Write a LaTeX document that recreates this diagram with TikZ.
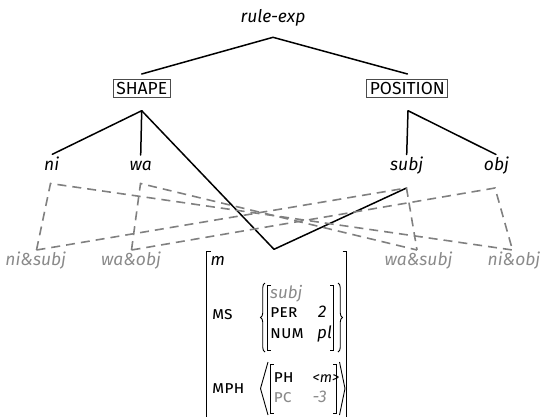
\documentclass[tikz,border=0pt]{standalone}
\usepackage{fontspec}
\setmainfont{Fira Sans}
\usetikzlibrary{decorations.pathreplacing}
\definecolor{lgray}{HTML}{8A8A8A}
\definecolor{dgray}{HTML}{808080}
\begin{document}
\begin{tikzpicture}[x=1bp,y=-1bp,
  base/.style={font=\fontsize{17.5}{21}\selectfont, inner sep=0pt, anchor=base},
  lbl/.style={base, font=\fontsize{17.5}{21}\selectfont\itshape},
  glbl/.style={lbl, text=lgray},
  boxn/.style={draw=black!70, line width=0.9bp, inner sep=3bp, font=\fontsize{17.5}{21}\selectfont},
  edge/.style={line width=1.5bp, line cap=round, line join=round},
  dedge/.style={dgray, line width=1.6bp, dash pattern=on 9bp off 6bp},
  avmw/.style={font=\fontsize{17}{20}\selectfont, inner sep=0pt, anchor=base west},
  avmi/.style={avmw, font=\fontsize{17}{20}\selectfont\itshape},
  avmsc/.style={avmw, font=\fontsize{17.5}{20}\selectfont\scshape},
  brk/.style={line width=0.9bp}
]
\useasboundingbox (0,0) rectangle (540,416);
\clip (0,0) rectangle (540,416);

% tree nodes
\node[lbl] (root) at (273,22.7) {rule-exp};
\node[boxn] (shape) at (141.7,88.5) {SHAPE};
\node[boxn] (position) at (407.3,88.5) {POSITION};
\node[lbl] (ni) at (51.7,170.7) {ni};
\node[lbl] (wa) at (140.7,170.7) {wa};
\node[lbl] (subj) at (406.7,170.7) {subj};
\node[lbl] (obj) at (496.5,170.7) {obj};
\node[glbl] (nisubj) at (35.8,265) {ni\&subj};
\node[glbl] (waobj) at (131,265) {wa\&obj};
\node[glbl] (wasubj) at (418.5,265) {wa\&subj};
\node[glbl] (niobj) at (514,265) {ni\&obj};

% connector ends
\coordinate (rootB) at (273,37.3);
\coordinate (shapeT) at (141.7,74);
\coordinate (positionT) at (407.5,74);
\coordinate (shapeB) at (141.7,110.7);
\coordinate (positionB) at (408,110.7);
\coordinate (niT) at (52.3,154.3);
\coordinate (waT) at (140.7,155);
\coordinate (subjT) at (406.7,154.5);
\coordinate (objT) at (496,154.5);
\coordinate (niB) at (50.5,183.5);
\coordinate (waB) at (140.5,183.5);
\coordinate (subjB) at (406.5,188);
\coordinate (objB) at (495,188);
\coordinate (nisubjT) at (36.5,250);
\coordinate (waobjT) at (131.5,250);
\coordinate (wasubjT) at (417,250);
\coordinate (niobjT) at (512.5,250);
\coordinate (avmT) at (274,249.3);

% solid tree edges
\draw[edge] (shapeT) -- (rootB) -- (positionT);
\draw[edge] (niT) -- (shapeB) -- (waT);
\draw[edge] (subjT) -- (positionB) -- (objT);
\draw[edge] (shapeB) -- (avmT) -- (subjB);

% dashed edges
\draw[dedge] (nisubjT) -- (niB) -- (niobjT);
\draw[dedge] (waobjT) -- (waB) -- (wasubjT);
\draw[dedge] (nisubjT) -- (subjB) -- (wasubjT);
\draw[dedge] (waobjT) -- (objB) -- (niobjT);

% AVM outer brackets
\draw[brk] (211,251.7) -- (206.7,251.7) -- (206.7,430) -- (211,430);
\draw[brk] (342.5,251.7) -- (346.7,251.7) -- (346.7,430) -- (342.5,430);
\node[avmi] (m) at (210.5,265.7) {m};

% MS
\node[avmsc] (ms) at (212,319) {ms};
\draw[brk, decorate, decoration={brace, amplitude=4.5bp}] (265,352) -- (265,283);
\draw[brk, decorate, decoration={brace, amplitude=4.5bp}] (338,283) -- (338,352);
\draw[brk] (271,285) -- (267.5,285) -- (267.5,350) -- (271,350);
\draw[brk] (330,285) -- (333.5,285) -- (333.5,350) -- (330,350);
\node[avmi, text=lgray] (msubj) at (270,298) {subj};
\node[avmsc] (per) at (270,317.5) {per};
\node[avmi] (perv) at (318,317.5) {2};
\node[avmsc] (num) at (270,338) {num};
\node[avmi] (numv) at (317,338) {pl};

% MPH
\node[avmsc] (mph) at (212,393) {mph};
\draw[brk] (268,362) -- (260.5,388.5) -- (268,415);
\draw[brk] (339.5,362) -- (345,388.5) -- (339.5,415);
\draw[brk] (274,364) -- (270.5,364) -- (270.5,413) -- (274,413);
\draw[brk] (333,364) -- (336.5,364) -- (336.5,413) -- (333,413);
\node[avmsc] (ph) at (273.5,382) {ph};
\node[avmi, font=\fontsize{14.5}{17}\selectfont\itshape] (phv) at (312.5,382) {<m>};
\node[avmsc, text=lgray] (pc) at (273.5,402.5) {pc};
\node[avmi, text=lgray] (pcv) at (312.5,402.5) {-3};
\end{tikzpicture}
\end{document}
